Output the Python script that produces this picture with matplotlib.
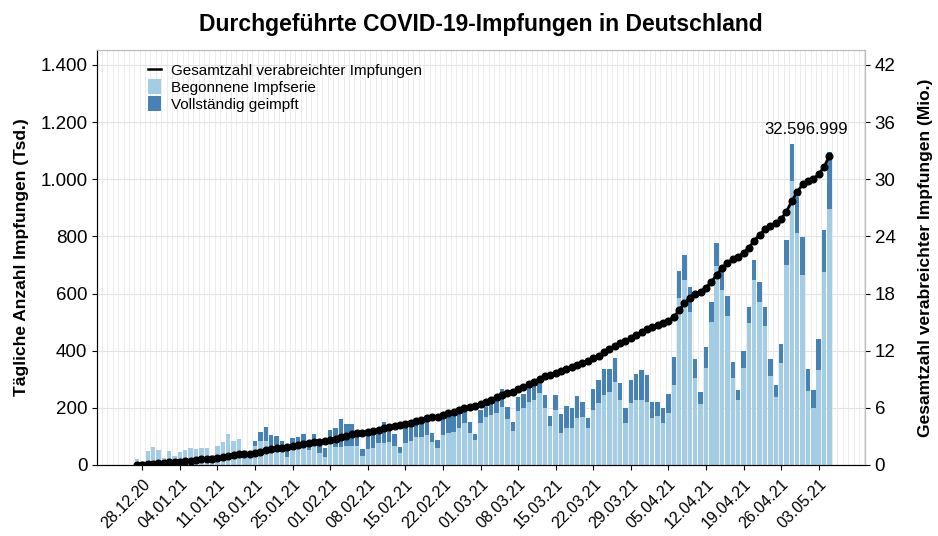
import numpy as np
import pandas as pd
import matplotlib
matplotlib.use("Agg")
import matplotlib.pyplot as plt
from matplotlib.lines import Line2D
from matplotlib.patches import Patch

plt.rcParams['font.family'] = ['Liberation Sans', 'DejaVu Sans']

start_date = "2020-12-27"
dates = pd.date_range(start_date, periods=130, freq="D")

# Daily first doses (thousands)
first_dose = [
    22, 15, 50, 62, 52, 25, 50, 30, 45, 52, 58, 55, 60, 60, 35, 67, 81, 110, 83, 90, 52, 45,
    66, 85, 85, 66, 70, 64, 27, 74, 70, 82, 52, 82, 41, 29, 93, 64, 64, 66, 66, 66, 32, 55,
    60, 76, 78, 82, 66, 43, 76, 85, 99, 97, 105, 82, 58, 105, 111, 117, 128, 146, 111, 88, 148, 169, 175,
    183, 204, 160, 120, 190, 198, 222, 228, 253, 198, 136, 192, 113, 128, 128, 163, 169, 128, 192, 216, 245, 257,
    289, 228, 148, 216, 228, 228, 221, 164, 170, 148, 181, 280,
    583, 647, 537, 303, 213, 338, 502, 696, 613, 521, 306, 229, 338, 496, 646, 572, 487, 311, 237, 356,
    698, 995, 811, 665, 260, 198, 331, 674, 895,
]
# Daily second doses (thousands)
second_dose = [0] * 22 + [
    19, 32, 49, 39, 33, 21, 23, 19, 29, 28, 30, 26, 32, 29, 29, 67, 96, 79, 79, 39, 23, 50,
    60, 55, 73, 46, 41, 21, 52, 55, 52, 49, 46, 31, 30, 55, 56, 58, 59, 46, 40, 19, 44, 35, 55,
    50, 61, 42, 32, 47, 51, 55, 52, 45, 47, 35, 53, 67, 78, 70, 78, 52, 35, 73, 82, 90, 78,
    84, 60, 50, 82, 92, 104, 94, 58, 52, 50, 67, 99,
    97, 88, 87, 68, 44, 76, 70, 82, 69, 71, 54, 34, 61, 57, 72, 68, 67, 59, 43, 69,
    88, 129, 127, 133, 75, 66, 110, 149, 199,
]
total_label = "32.596.999"

tick_labels = ["28.12.20", "04.01.21", "11.01.21", "18.01.21", "25.01.21", "01.02.21",
               "08.02.21", "15.02.21", "22.02.21", "01.03.21", "08.03.21", "15.03.21",
               "22.03.21", "29.03.21", "05.04.21", "12.04.21", "19.04.21", "26.04.21",
               "03.05.21"]

first = np.array(first_dose, dtype=float)
second = np.array(second_dose, dtype=float)
cumulative_mio = np.cumsum(first + second) / 1000.0

x = np.arange(len(dates))
date_index = {d.strftime("%d.%m.%y"): i for i, d in enumerate(dates)}
tick_pos = [date_index[t] for t in tick_labels]

fig = plt.figure(figsize=(9.38, 5.36), dpi=100)
ax = fig.add_axes([0.1034, 0.1325, 0.8186, 0.7742])

light = "#a3cde4"
dark = "#4682b4"

ax.bar(x, first, width=0.82, color=light, zorder=2)
ax.bar(x, second, bottom=first, width=0.82, color=dark, zorder=2)

ax.set_xlim(-7.45, 135.6)
ax.set_ylim(0, 1452)
ax.set_yticks(np.arange(0, 1401, 200))
ax.set_yticklabels([f"{v:,}".replace(",", ".") for v in range(0, 1401, 200)], fontsize=13.5)
ax.set_xticks(tick_pos)
ax.set_xticklabels(tick_labels, rotation=45, ha="right", rotation_mode="anchor", fontsize=11.5)
ax.tick_params(axis="x", which="major", pad=5)
ax.set_xticks(np.arange(-7, 136) + 0.5, minor=True)
ax.tick_params(axis="x", which="minor", length=0)
ax.grid(axis="y", which="major", color="#e3e3e3", lw=0.8, zorder=0)
ax.grid(axis="x", which="minor", color="#ececec", lw=0.7, zorder=0)
ax.set_ylabel("Tägliche Anzahl Impfungen (Tsd.)", fontsize=12.5, fontweight="bold", labelpad=8)

ax.spines["top"].set_color("#bbbbbb")
ax.spines["left"].set_color("#333333")
ax.spines["bottom"].set_color("#333333")
ax.spines["right"].set_color("#bbbbbb")

ax2 = ax.twinx()
ax2.set_ylim(0, 1452 * 0.03)
ax2.set_yticks(np.arange(0, 43, 6))
ax2.set_yticklabels([str(v) for v in range(0, 43, 6)], fontsize=13.5)
ax2.plot(x, cumulative_mio, color="black", lw=2.0, marker="o", markersize=4.8, zorder=5)
ax2.set_ylabel("Gesamtzahl verabreichter Impfungen (Mio.)", fontsize=12.5, fontweight="bold", labelpad=16)
ax2.spines["right"].set_color("#bbbbbb")
ax2.spines["top"].set_color("#bbbbbb")
ax2.annotate(total_label, (x[-1], cumulative_mio[-1]), xytext=(-17, 14),
             textcoords="offset points", ha="center", va="bottom", fontsize=12)

handles = [Line2D([0], [0], color="black", lw=1.8),
           Patch(facecolor=light), Patch(facecolor=dark)]
labels = ["Gesamtzahl verabreichter Impfungen", "Begonnene Impfserie", "Vollständig geimpft"]
ax.legend(handles, labels, loc="upper left", bbox_to_anchor=(0.058, 0.985), frameon=False,
          fontsize=11, handlelength=0.9, handleheight=1.1, handletextpad=0.6,
          labelspacing=0.1, borderaxespad=0)

ax.set_title("Durchgeführte COVID-19-Impfungen in Deutschland", fontsize=16.5,
             fontweight="bold", pad=14)

fig.savefig("out.png", dpi=100)
